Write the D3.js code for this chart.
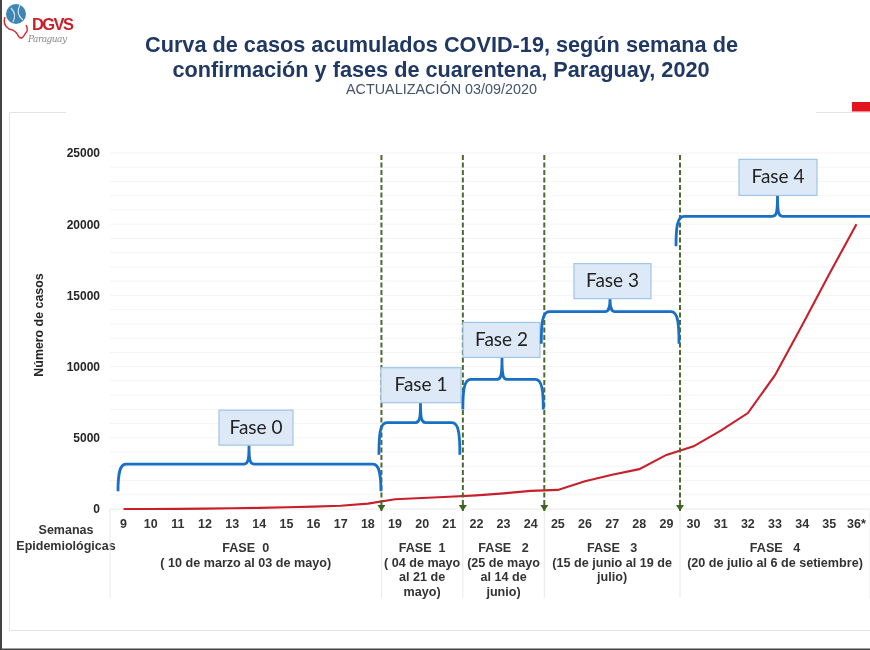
<!DOCTYPE html>
<html lang="es"><head><meta charset="utf-8">
<script src="https://cdn.jsdelivr.net/npm/d3@7/dist/d3.min.js"></script>
<style>html,body{margin:0;padding:0;background:#fff}svg{display:block;filter:blur(0.5px)}text{font-family:"Liberation Sans",Arial,sans-serif}</style>
</head><body><svg id="c" width="870" height="650"></svg>
<script>
const weeks=[9,10,11,12,13,14,15,16,17,18,19,20,21,22,23,24,25,26,27,28,29,30,31,32,33,34,35,36];
const weekLabels=weeks.map(w=>w===36?"36*":String(w));
const cases=[0,5,12,25,50,80,120,170,230,380,690,770,860,960,1100,1270,1340,1950,2400,2800,3800,4400,5500,6740,9400,12900,16500,20000];
const yTicks=[0,5000,10000,15000,20000,25000];
const phaseNames=["Fase 0","Fase 1","Fase 2","Fase 3","Fase 4"];
const phaseHeads=["FASE  0","FASE  1","FASE   2","FASE   3","FASE   4"];
const phaseNotes=[["( 10 de marzo al 03 de mayo)"],["( 04 de mayo","al 21 de","mayo)"],["(25 de mayo","al 14 de","junio)"],["(15 de junio al 19 de","julio)"],["(20 de julio al 6 de setiembre)"]];
const phaseFirstWeek=[9,19,22,25,30];
const phaseLastWeek=[18,21,24,29,36];
const braceLevel=[3150,6060,9100,13860,20550];

const svg=d3.select("#c");
const L=110,R=870,T=153,B=509;
const x=d3.scaleBand().domain(weeks).range([L,R]);
const y=d3.scaleLinear().domain([0,25000]).range([B,T]);

// page frame
svg.append("rect").attr("x",0).attr("y",0).attr("width",2).attr("height",650).attr("fill","#444");
svg.append("rect").attr("x",0).attr("y",648.5).attr("width",870).attr("height",1.5).attr("fill","#444");
const frame="#e3e3e3";
svg.append("path").attr("fill","none").attr("stroke",frame).attr("d","M66,112.5H9.5V630.5H870M816,112.5H870");
svg.append("rect").attr("x",852).attr("y",102).attr("width",18).attr("height",9.5).attr("fill","#e3141f");

// logo
const logo=svg.append("g");
logo.append("circle").attr("cx",16).attr("cy",14).attr("r",10).attr("fill","#3f86b5");
logo.append("path").attr("d","M11,8Q17,14 13,22M20,5Q15,14 23,20").attr("fill","none").attr("stroke","#cfe3ee").attr("stroke-width",1.2);
logo.append("path").attr("d","M5,17Q2,24 9,29Q16,30 19,37Q22,40 25,34Q29,30 26,25").attr("fill","none").attr("stroke","#d8262c").attr("stroke-width",1.4);
logo.append("text").attr("x",32).attr("y",30).attr("font-size",16.5).attr("font-weight","bold").attr("fill","#c8202a").attr("textLength",42).text("DGVS");
logo.append("text").attr("x",28).attr("y",42).attr("font-size",9).attr("font-style","italic").attr("fill","#8a8a8a").style("font-family","'DejaVu Serif',serif").attr("textLength",39).text("Paraguay");

// title
const title=svg.append("g").attr("text-anchor","middle");
title.append("text").attr("x",441.5).attr("y",52).attr("font-size",21.7).attr("font-weight","bold").attr("fill","#1f3864").text("Curva de casos acumulados COVID-19, según semana de");
title.append("text").attr("x",441).attr("y",76.5).attr("font-size",21.7).attr("font-weight","bold").attr("fill","#1f3864").text("confirmación y fases de cuarentena, Paraguay, 2020");
title.append("text").attr("x",441.5).attr("y",94).attr("font-size",14.4).attr("fill","#44546a").text("ACTUALIZACIÓN 03/09/2020");

// grid
svg.append("g").selectAll("line").data(d3.range(0,25001,1000)).join("line")
  .attr("x1",L).attr("x2",R).attr("y1",d=>y(d)).attr("y2",d=>y(d)).attr("stroke","#f4f4f4");

// y axis
const yAxis=svg.append("g").attr("transform",`translate(${L-9},0)`)
  .call(d3.axisLeft(y).tickValues(yTicks).tickSize(0).tickPadding(1).tickFormat(d3.format("d")));
yAxis.select(".domain").remove();
yAxis.selectAll("text").attr("font-size",12).attr("font-weight","bold").attr("fill","#262626").style("font-family",'"Liberation Sans"');
svg.append("text").attr("transform","translate(43,325) rotate(-90)").attr("text-anchor","middle")
  .attr("font-size",12.4).attr("font-weight","bold").attr("fill","#262626").text("Número de casos");

// x week labels
const xAxis=svg.append("g").attr("transform",`translate(0,${B+10})`)
  .call(d3.axisBottom(x).tickSize(0).tickPadding(0).tickFormat((d,i)=>weekLabels[i]));
xAxis.select(".domain").remove();
xAxis.selectAll("text").attr("font-size",12.5).attr("font-weight","bold").attr("fill","#333").style("font-family",'"Liberation Sans"');
const sem=svg.append("g").attr("text-anchor","middle").attr("font-size",12.5).attr("font-weight","bold").attr("fill","#333");
sem.append("text").attr("x",66).attr("y",534).text("Semanas");
sem.append("text").attr("x",66).attr("y",549.5).text("Epidemiológicas");

// table separators + phase texts
const startX=i=>x(phaseFirstWeek[i]);
const endX=i=>x(phaseLastWeek[i])+x.bandwidth();
const sep=[L,...phaseLastWeek.map((w,i)=>endX(i))];
svg.append("g").selectAll("line").data(sep).join("line")
  .attr("x1",d=>d).attr("x2",d=>d).attr("y1",B).attr("y2",598).attr("stroke","#e8e8e8");
svg.append("line").attr("x1",L).attr("x2",R).attr("y1",B).attr("y2",B).attr("stroke","#eeeeee");

const ptxt=svg.append("g").attr("text-anchor","middle").attr("font-size",12.6).attr("font-weight","bold").attr("fill","#333");
phaseNames.forEach((n,i)=>{
  const cx=(startX(i)+endX(i))/2;
  ptxt.append("text").attr("x",cx).attr("y",551.5).style("white-space","pre").text(phaseHeads[i]);
  phaseNotes[i].forEach((t,j)=>ptxt.append("text").attr("x",cx).attr("y",566.5+j*14.5).text(t));
});

// line
svg.append("path").datum(cases).attr("fill","none").attr("stroke","#c8202a").attr("stroke-width",2.1)
  .attr("d",d3.line().x((d,i)=>x(weeks[i])+x.bandwidth()/2).y(d=>y(d)));

// dashed arrows
const defs=svg.append("defs");
defs.append("marker").attr("id","arr").attr("markerUnits","userSpaceOnUse").attr("viewBox","0 0 8 6").attr("refX",4).attr("refY",6).attr("markerWidth",8).attr("markerHeight",6).attr("orient","0")
  .append("path").attr("d","M0,0H8L4,6Z").attr("fill","#3d6321");
const drops=phaseLastWeek.slice(0,4).map((w,i)=>endX(i));
svg.append("g").selectAll("line").data(drops).join("line")
  .attr("x1",d=>d).attr("x2",d=>d).attr("y1",y(25000)+2).attr("y2",B+2)
  .attr("stroke","#4c6b2e").attr("stroke-width",2).attr("stroke-dasharray","5 2.5").attr("marker-end","url(#arr)");

// braces and boxes
const blue="#1870c4";
const braceOffs=[{l:9,r:-1.5,c:249,bc:256,w:74,rise:19,h:35,dy:27},{l:-1.5,r:-4,c:420.5,bc:421,w:80,rise:20,h:35,dy:32},{l:1,r:-2,c:502,bc:501.5,w:77,rise:22,h:35,dy:30},{l:-2,r:-2,c:610,bc:612.5,w:77,rise:13,h:35,dy:32},{l:-3,r:60,c:777.5,bc:778,w:78,rise:21,h:36,dy:30}];
const g=svg.append("g");
phaseNames.forEach((n,i)=>{
  const o=braceOffs[i], a=startX(i)+o.l, b=endX(i)+o.r, c=o.c, yy=y(braceLevel[i]);
  const p=d3.path();
  p.moveTo(a-1,yy+o.dy);
  p.bezierCurveTo(a-1,yy+12,a,yy,a+7,yy);
  p.lineTo(c-5,yy);
  p.bezierCurveTo(c-1,yy,c,yy-4,c,yy-o.rise);
  p.bezierCurveTo(c,yy-4,c+1,yy,c+5,yy);
  p.lineTo(b-7,yy);
  p.bezierCurveTo(b,yy,b+1,yy+12,b+1,yy+o.dy);
  g.append("path").attr("d",p.toString()).attr("fill","none").attr("stroke",blue).attr("stroke-width",2.8);
  const top=yy-o.rise-o.h;
  g.append("rect").attr("x",o.bc-o.w/2).attr("y",top).attr("width",o.w).attr("height",o.h).attr("fill","#dde9f6").attr("stroke","#9ec5ea").attr("stroke-width",1.2);
  g.append("text").attr("x",o.bc).attr("y",top+o.h/2+6).attr("text-anchor","middle").attr("font-size",19).attr("fill","#222").style("font-family","Lato").text(n);
});
</script></body></html>
